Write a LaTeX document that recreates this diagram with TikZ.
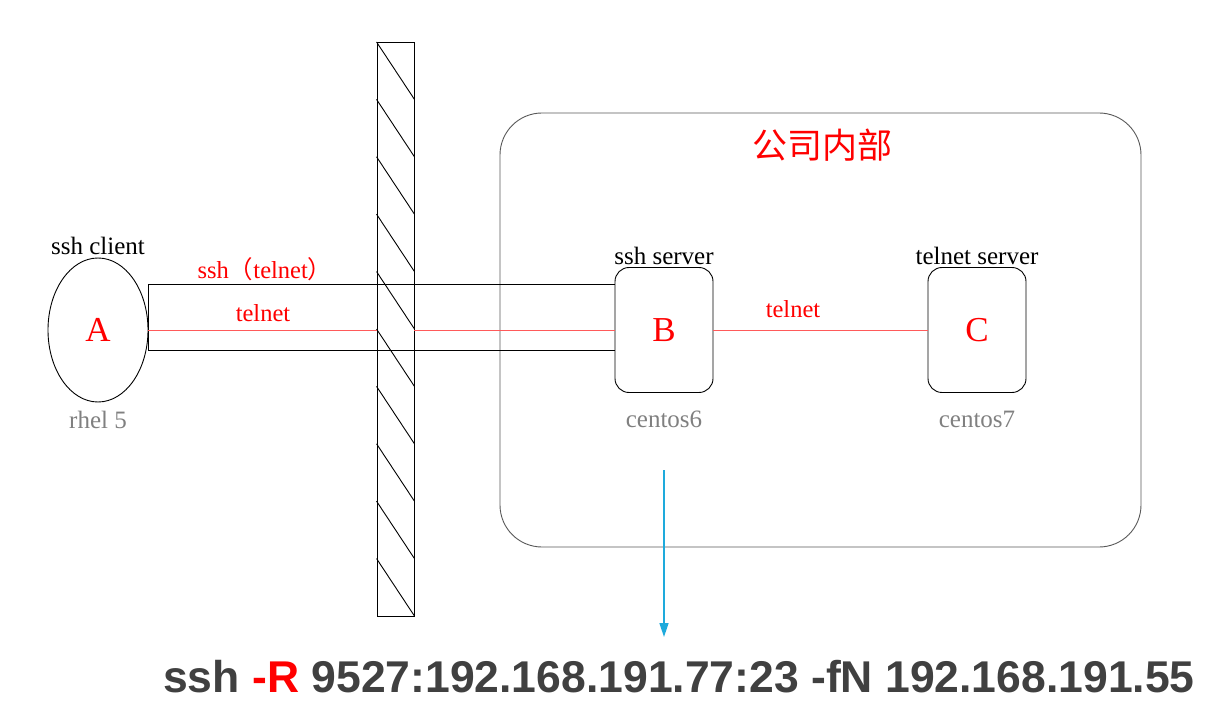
\documentclass[tikz,border=0pt]{standalone}
\usepackage{fontspec}
\setmainfont{Liberation Serif}
\setsansfont{Liberation Sans}
\newfontfamily\cjk{Noto Sans CJK SC}
\usetikzlibrary{shapes.geometric,arrows.meta}
\definecolor{tunnelred}{RGB}{255,90,90}
\definecolor{labelgray}{RGB}{128,128,128}
\definecolor{arrowblue}{RGB}{30,170,220}
\definecolor{cmdgray}{RGB}{64,64,64}
\tikzset{
    host/.style={draw, ellipse, inner sep=0pt, minimum width=100pt, minimum height=144pt,
        text=red, font=\fontsize{35}{38}\selectfont},
    server/.style={draw, rectangle, rounded corners=14pt, inner sep=0pt, minimum width=98pt,
        minimum height=125pt, text=red, font=\fontsize{35}{38}\selectfont},
    toplbl/.style={font=\fontsize{25}{28}\selectfont, inner sep=2pt},
    oslbl/.style={font=\fontsize{25}{28}\selectfont, text=labelgray},
    redlbl/.style={font=\fontsize{24.5}{28}\selectfont, text=red},
}
\begin{document}
\begin{tikzpicture}[x=1pt, y=-1pt, line width=0.9pt]
            \useasboundingbox (0,0) rectangle (1216,703);
            % company network
            \draw[gray!70!black, rounded corners=42pt] (500,113) rectangle (1141,547);
            \node[font=\cjk\fontsize{35}{38}\selectfont, text=red] (title) at (822,145) {公司内部};
            % hosts
            \node[host, label={[toplbl]above:ssh client}, label={[oslbl, label distance=5pt]below:rhel 5}] (A) at (98,330) {A};
            \node[server, label={[toplbl]above:ssh server}, label={[oslbl, label distance=14pt]below:centos6}] (B) at (664,330) {B};
            \node[server, label={[toplbl]above:telnet server}, label={[oslbl, label distance=14pt]below:centos7}] (C) at (977,330) {C};
            % firewall
            \node[draw, rectangle, inner sep=0pt, minimum width=37pt, minimum height=574pt] (wall) at (395.5,329) {};
            \foreach \i in {0,...,9}
                \draw (wall.west |- 0,42+57.4*\i) -- (wall.east |- 0,99.4+57.4*\i);
            % ssh tunnel
            \coordinate (tt) at (A.east |- 0,284);
            \coordinate (tb) at (A.east |- 0,350);
            \draw (B.west |- tt) -- (tt) -- (tb) -- (B.west |- tb);
            \draw[tunnelred] (A.east) -- (A.east -| wall.west);
            \draw[tunnelred] (A.east -| wall.east) -- (B.west);
            \draw[tunnelred] (B.east) -- (C.west);
            \node[redlbl] (sshlbl) at (265,269) {ssh{\cjk （}telnet{\cjk ）}};
            \node[redlbl] (tnlbl) at (263,313) {telnet};
            \node[redlbl] (bclbl) at (793,309) {telnet};
            % command
            \node[anchor=base, font=\sffamily\bfseries\fontsize{44.5}{50}\selectfont, text=cmdgray, inner sep=0pt] (cmd) at (679,692)
                {ssh \textcolor{red}{-R} 9527:192.168.191.77:23 -fN 192.168.191.55};
            \coordinate (arrowtop) at (B.south |- 0,470);
            \draw[arrowblue, line width=1.6pt, -{Triangle[length=14pt, width=9pt]}] (arrowtop) -- (arrowtop |- 0,637);
            \end{tikzpicture}
\end{document}
